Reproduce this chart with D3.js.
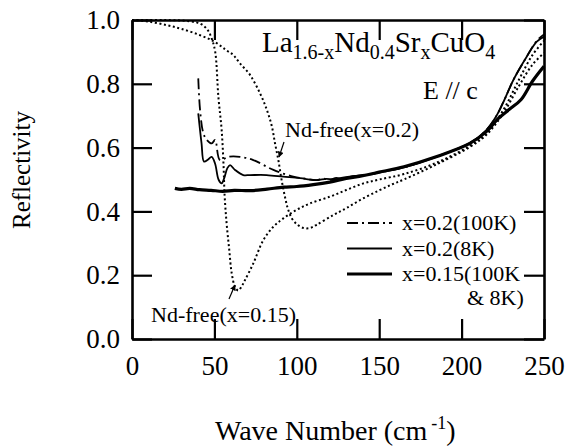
<!DOCTYPE html>
<html>
<head>
<meta charset="utf-8">
<script src="https://cdn.jsdelivr.net/npm/d3@7"></script>
<style>
  body { margin: 0; background: #fff; }
  svg text { font-family: "Liberation Serif", "Times New Roman", "DejaVu Serif", serif; }
</style>
</head>
<body>
<div id="chart"></div>
<script>
// wave number (cm-1), reflectivity
const ndFree015 = [[0,1.0],[20,1.0],[35,0.996],[42,0.987],[46,0.968],[48.5,0.94],[50.5,0.9],[52.4,0.76],[54.4,0.655],[55.5,0.55],[56.2,0.45],[57.4,0.363],[59,0.28],[60.5,0.206],[62.5,0.164],[64.5,0.152],[66.5,0.165],[68.6,0.185],[73.6,0.237],[79.7,0.31],[85.8,0.352],[91.8,0.378],[100,0.405],[108,0.425],[120,0.446],[130,0.467],[140,0.487],[150,0.5],[165,0.517],[185,0.553],[205,0.606],[215,0.645],[225,0.715],[235,0.815],[243,0.89],[250,0.935]];
const ndFree02 = [[0,1.0],[10,0.995],[21,0.984],[30,0.972],[41,0.953],[50,0.932],[57,0.906],[61.5,0.89],[65.5,0.864],[71.6,0.828],[77.7,0.77],[81.7,0.72],[84.8,0.668],[86.8,0.613],[88.8,0.561],[90.8,0.498],[92.8,0.446],[94.5,0.41],[97,0.378],[100,0.36],[104,0.348],[108,0.348],[112,0.358],[122,0.388],[130,0.41],[140,0.44],[150,0.466],[158,0.485],[165,0.5],[185,0.548],[205,0.602],[215,0.64],[225,0.705],[235,0.795],[243,0.86],[250,0.897]];
const x02at100K = [[40.2,0.817],[41.3,0.718],[43.3,0.645],[45.4,0.624],[48.4,0.613],[50.4,0.624],[53.4,0.561],[58.4,0.571],[65.5,0.571],[73.6,0.561],[85.8,0.53],[97.9,0.509],[105,0.503],[112,0.498],[116,0.503],[120,0.499],[124,0.505],[128,0.5],[132,0.508],[140,0.512],[150,0.522],[165,0.538],[185,0.572],[205,0.614],[215,0.655],[221,0.698],[226,0.75],[231.4,0.812],[239.5,0.885],[245.6,0.935],[250,0.955]];
const x02at8K = [[40.2,0.707],[42.2,0.613],[43.7,0.556],[46,0.562],[48.3,0.571],[50.4,0.55],[52.5,0.5],[54.4,0.488],[56,0.505],[57.8,0.535],[59.5,0.545],[62.5,0.53],[67.5,0.514],[71.6,0.514],[81.7,0.514],[91.8,0.509],[102,0.504],[112,0.498],[118,0.502],[122,0.5],[127,0.505],[132,0.509],[145,0.516],[150,0.522],[165,0.538],[185,0.572],[205,0.614],[215,0.655],[221,0.698],[226,0.75],[231.4,0.812],[239.5,0.885],[245.6,0.932],[250,0.948]];
const x015 = [[26,0.472],[30,0.469],[35,0.472],[41,0.468],[48,0.466],[55,0.463],[62,0.466],[72,0.465],[82,0.47],[92,0.476],[100,0.478],[110,0.484],[120,0.492],[130,0.503],[140,0.512],[150,0.523],[165,0.54],[185,0.572],[205,0.613],[215,0.65],[222,0.69],[229,0.72],[236,0.75],[243,0.808],[250,0.855]];

const xTicks = [0, 50, 100, 150, 200, 250];
const yTicks = [0, 0.2, 0.4, 0.6, 0.8, 1.0];
const legendLabels = ["x=0.2(100K)", "x=0.2(8K)", "x=0.15(100K"];

const serif = "Liberation Serif, Times New Roman, DejaVu Serif, serif";
const W = 566, H = 447;
const svg = d3.select("#chart").append("svg").attr("width", W).attr("height", H);

const x = d3.scaleLinear().domain([0, 250]).range([132, 544]);
const y = d3.scaleLinear().domain([0, 1]).range([339, 20]);

// axes, ticks pointing inward
const axBottom = svg.append("g").attr("transform", `translate(0,${y(0)})`)
  .call(d3.axisBottom(x).tickValues(xTicks).tickFormat(d3.format("d")).tickSizeInner(-20).tickSizeOuter(0).tickPadding(17));
const axLeft = svg.append("g").attr("transform", `translate(${x(0)},0)`)
  .call(d3.axisLeft(y).tickValues(yTicks).tickFormat(d3.format(".1f")).tickSizeInner(-20).tickSizeOuter(0).tickPadding(12));
const axTop = svg.append("g").attr("transform", `translate(0,${y(1)})`)
  .call(d3.axisTop(x).tickValues(xTicks).tickFormat("").tickSizeInner(-20).tickSizeOuter(0));
const axRight = svg.append("g").attr("transform", `translate(${x(250)},0)`)
  .call(d3.axisRight(y).tickValues(yTicks).tickFormat("").tickSizeInner(-20).tickSizeOuter(0));

[axBottom, axLeft, axTop, axRight].forEach(g => {
  g.attr("font-family", serif);
  g.select(".domain").attr("stroke", "#000").attr("stroke-width", 2.6);
  g.selectAll(".tick line").attr("stroke", "#000").attr("stroke-width", 2.2);
  g.selectAll(".tick text").attr("font-size", 27).attr("fill", "#000").attr("font-family", serif);
});

const line = d3.line().x(d => x(d[0])).y(d => y(d[1])).curve(d3.curveCatmullRom.alpha(0.5));

const plot = svg.append("g");
plot.append("path").datum(ndFree015).attr("d", line).attr("fill", "none")
  .attr("stroke", "#000").attr("stroke-width", 2).attr("stroke-dasharray", "2,2.6");
plot.append("path").datum(ndFree02).attr("d", line).attr("fill", "none")
  .attr("stroke", "#000").attr("stroke-width", 2).attr("stroke-dasharray", "2,2.6");
plot.append("path").datum(x02at100K).attr("d", line).attr("fill", "none")
  .attr("stroke", "#000").attr("stroke-width", 1.8).attr("stroke-dasharray", "11,4,2,4");
plot.append("path").datum(x02at8K).attr("d", line).attr("fill", "none")
  .attr("stroke", "#000").attr("stroke-width", 1.8);
plot.append("path").datum(x015).attr("d", line).attr("fill", "none")
  .attr("stroke", "#000").attr("stroke-width", 3.2);

// legend
const legendStyles = [
  { w: 1.8, dash: "11,4,2,4" },
  { w: 1.8, dash: null },
  { w: 3.2, dash: null }
];
legendLabels.forEach((lab, i) => {
  const ly = 223 + i * 25.5;
  svg.append("line").attr("x1", 347).attr("x2", 392).attr("y1", ly).attr("y2", ly)
    .attr("stroke", "#000").attr("stroke-width", legendStyles[i].w)
    .attr("stroke-dasharray", legendStyles[i].dash);
  svg.append("text").attr("x", 402).attr("y", ly + 7).attr("font-size", 22)
    .attr("font-family", serif).text(lab);
});
svg.append("text").attr("x", 467).attr("y", 305).attr("font-size", 22)
  .attr("font-family", serif).text("& 8K)");

// title
const title = svg.append("text").attr("x", 262).attr("y", 52).attr("font-size", 29).attr("font-family", serif);
title.append("tspan").text("La");
title.append("tspan").attr("font-size", 20).attr("dy", 7).text("1.6-x");
title.append("tspan").attr("dy", -7).text("Nd");
title.append("tspan").attr("font-size", 20).attr("dy", 7).text("0.4");
title.append("tspan").attr("dy", -7).text("Sr");
title.append("tspan").attr("font-size", 20).attr("dy", 7).text("x");
title.append("tspan").attr("dy", -7).text("CuO");
title.append("tspan").attr("font-size", 20).attr("dy", 7).text("4");

svg.append("text").attr("x", 423).attr("y", 99).attr("font-size", 26)
  .attr("font-family", serif).text("E // c");

// annotations with arrows
svg.append("defs").append("marker").attr("id", "arr").attr("viewBox", "0 0 10 10")
  .attr("refX", 9).attr("refY", 5).attr("markerWidth", 5).attr("markerHeight", 5)
  .attr("orient", "auto").append("path").attr("d", "M0,0L10,5L0,10z").attr("fill", "#000");

svg.append("text").attr("x", 285).attr("y", 137).attr("font-size", 22)
  .attr("font-family", serif).text("Nd-free(x=0.2)");
svg.append("line").attr("x1", 284).attr("y1", 142).attr("x2", 279).attr("y2", 157)
  .attr("stroke", "#000").attr("stroke-width", 1.2).attr("marker-end", "url(#arr)");

svg.append("text").attr("x", 151).attr("y", 322).attr("font-size", 22)
  .attr("font-family", serif).text("Nd-free(x=0.15)");
svg.append("line").attr("x1", 229).attr("y1", 299).attr("x2", 235).attr("y2", 285)
  .attr("stroke", "#000").attr("stroke-width", 1.2).attr("marker-end", "url(#arr)");

// axis titles
svg.append("text").attr("transform", "translate(30,170) rotate(-90)")
  .attr("text-anchor", "middle").attr("font-size", 25).attr("font-family", serif).text("Reflectivity");

const xt = svg.append("text").attr("x", 215).attr("y", 440).attr("font-size", 28).attr("font-family", serif);
xt.append("tspan").text("Wave Number (cm");
xt.append("tspan").attr("font-size", 18).attr("dx", 4).attr("dy", -11).text("-1");
xt.append("tspan").attr("dy", 11).text(")");
</script>
</body>
</html>
